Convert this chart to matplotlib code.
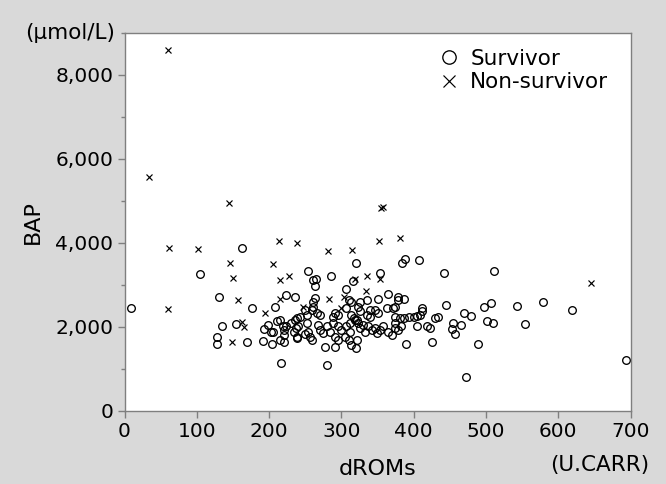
import matplotlib
matplotlib.use("Agg")
import matplotlib.pyplot as plt
from matplotlib.ticker import FuncFormatter, MultipleLocator

# Survivor (circles): dROMs (U.CARR), BAP (umol/L)
surv_x = [
    9, 105, 162, 131, 135, 128, 128, 154, 170, 177, 192, 193, 198, 203, 205, 204,
    208, 211, 217, 219, 220, 221, 215, 221, 224, 236, 224, 231, 238, 237, 238,
    320, 384, 388, 407, 254, 286, 261, 265, 263, 316, 354, 306, 364, 379, 387,
    378, 310, 314, 350, 326, 264, 261, 336, 374, 372, 363, 411, 412, 323, 326,
    291, 296, 289, 261, 259, 266, 270, 250, 252, 243, 307, 340, 335, 340, 347,
    351, 314, 317, 321, 312, 374, 381, 386, 393, 400, 405, 409, 430, 434,
    215, 236, 240, 238, 234, 252, 254, 257, 259, 250, 268, 270, 280, 284, 275,
    289, 296, 300, 291, 296, 305, 307, 312, 310, 321, 314, 319, 323, 326, 330,
    333, 337, 342, 347, 349, 353, 358, 365, 370, 374, 379, 383, 374, 390, 404,
    418, 422, 426, 277, 291, 320, 280,
    442, 511, 445, 454, 453, 457, 465, 469, 480, 472, 489, 497, 507, 501, 510,
    543, 554, 579, 619, 694,
]
surv_y = [
    2460, 3260, 3870, 2720, 2020, 1770, 1600, 2070, 1630, 2460, 1670, 1960, 2050, 1870, 1890, 1600,
    2480, 2150, 1140, 2020, 1930, 1810, 1690, 1650, 2760, 2720, 2010, 2090, 2210, 1970, 1730,
    3530, 3530, 3610, 3600, 3340, 3210, 3120, 3140, 2980, 3100, 3290, 2900, 2790, 2720, 2660,
    2630, 2640, 2580, 2670, 2600, 2680, 2600, 2640, 2480, 2445, 2440, 2440, 2370, 2480, 2380,
    2330, 2290, 2240, 2480, 2405, 2330, 2290, 2405, 2290, 2245, 2445, 2405, 2290, 2245, 2405,
    2330, 2290, 2210, 2170, 2090, 2245, 2210, 2210, 2230, 2245, 2260, 2290, 2210, 2225,
    2170, 2170, 2010, 1770, 1890, 2090, 1890, 1770, 1690, 1840, 2050, 1930, 2010, 1890, 1850,
    2090, 2010, 1930, 1770, 1690, 1770, 2010, 1890, 1690, 1690, 1570, 2170, 2090, 1970, 2050,
    1890, 2010, 1930, 1970, 1850, 1930, 2010, 1890, 1810, 1970, 1930, 2010, 2090, 1595, 2020,
    2010, 1970, 1630, 1520, 1520, 1490, 1100,
    3290, 3320, 2520, 2100, 1950, 1825, 2050, 2340, 2260, 820, 1595, 2480, 2560, 2150, 2090,
    2500, 2060, 2580, 2390, 1210,
]

# Non-survivor (crosses)
non_x = [
    60, 34, 144, 355, 358, 62, 101, 146, 150, 206, 214, 238, 215, 227, 157, 60,
    195, 215, 163, 165, 149, 282, 315, 352, 381, 319, 336, 354, 334, 283, 304,
    247, 300, 646,
]
non_y = [
    8590, 5560, 4940, 4830, 4850, 3870, 3860, 3520, 3160, 3500, 4040, 3990, 3120, 3210, 2640, 2420,
    2340, 2660, 2120, 2000, 1650, 3810, 3830, 4050, 4110, 3140, 3200, 3150, 2860, 2660, 2710,
    2480, 2440, 3040,
]

bg = "#d9d9d9"
spine_c = "#7f7f7f"

plt.rcParams["font.family"] = ["DejaVu Sans"]

fig = plt.figure(figsize=(6.66, 4.84), dpi=100, facecolor=bg)
ax = fig.add_axes([124.5 / 666, 1 - 411 / 484, 506 / 666, 378.5 / 484])
ax.set_facecolor("white")

ax.plot(surv_x, surv_y, "o", ms=5.5, mfc="none", mec="black", mew=0.95,
        linestyle="none", label="Survivor", clip_on=False)
ax.plot(non_x, non_y, "x", ms=5.0, mec="black", mew=0.85,
        linestyle="none", label="Non-survivor", clip_on=False)

ax.set_xlim(0, 700)
ax.set_ylim(0, 9000)
ax.xaxis.set_major_locator(MultipleLocator(100))
ax.yaxis.set_major_locator(MultipleLocator(2000))
ax.yaxis.set_minor_locator(MultipleLocator(1000))
ax.yaxis.set_major_formatter(FuncFormatter(lambda v, p: f"{int(v):,}"))

for s in ax.spines.values():
    s.set_color(spine_c)
    s.set_linewidth(1.0)

ax.tick_params(axis="both", which="major", length=5, width=1, color=spine_c,
               labelsize=14.5, pad=3)
ax.tick_params(axis="y", which="minor", length=3, width=1, color=spine_c)

ax.set_xlabel("dROMs", fontsize=16, va="center")
ax.xaxis.set_label_coords(0.5, (411 - 469) / 378.5)
ax.set_ylabel("BAP", fontsize=16, va="center")
ax.yaxis.set_label_coords((33 - 124.5) / 506, 0.5)

fig.text(115 / 666, 1 - 33 / 484, "(μmol/L)", fontsize=15.5, ha="right", va="center")
fig.text(649 / 666, 1 - 465 / 484, "(U.CARR)", fontsize=15.5, ha="right", va="center")

ax.legend(loc="upper left", bbox_to_anchor=(440 / 666, 1 - 49 / 484),
          bbox_transform=fig.transFigure, frameon=False, fontsize=15.5,
          markerscale=1.75, handlelength=0.8, handletextpad=0.6,
          labelspacing=0.15, borderpad=0, borderaxespad=0)

fig.savefig("out.png", dpi=100, facecolor=bg)
